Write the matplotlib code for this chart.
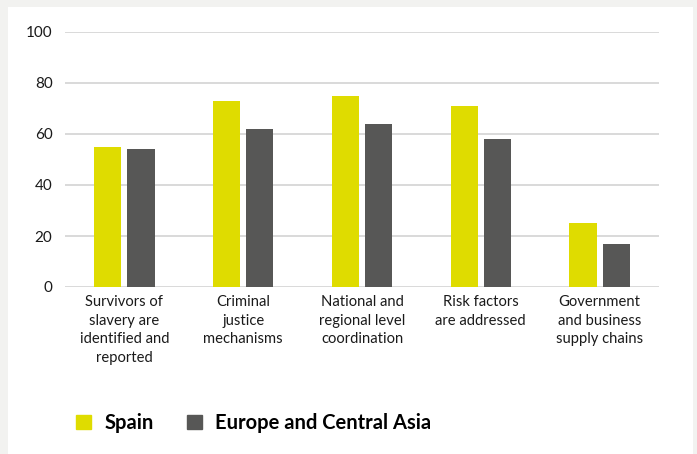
import matplotlib.pyplot as plt
import matplotlib.patches as mpatches
import numpy as np

plt.rcParams['font.family'] = ['Lato', 'DejaVu Sans']

# data
categories = ['Survivors of\nslavery are\nidentified and\nreported',
              'Criminal\njustice\nmechanisms',
              'National and\nregional level\ncoordination',
              'Risk factors\nare addressed',
              'Government\nand business\nsupply chains']
spain = [55, 73, 75, 71, 25]
europe_ca = [54, 62, 64, 58, 17]
series_names = ['Spain', 'Europe and Central Asia']
yticks = [0, 20, 40, 60, 80, 100]

col_spain = '#dfdc00'
col_eca = '#575756'

fig = plt.figure(figsize=(6.97, 4.54), dpi=100)
fig.patch.set_facecolor('#f2f2f0')

# white panel inside the light grey frame
fig.patches.append(mpatches.Rectangle((8 / 697, 0), (693 - 8) / 697, (454 - 7) / 454,
                                      transform=fig.transFigure, facecolor='white',
                                      edgecolor='none', zorder=-5))

ax = fig.add_axes([65 / 697, (454 - 287) / 454, (659 - 65) / 697, (287 - 32) / 454])
ax.set_facecolor('none')
ax.set_zorder(2)

x = np.arange(len(categories))
w = 0.23
off = 0.14
b1 = ax.bar(x - off, spain, w, color=col_spain, zorder=3, label=series_names[0])
b2 = ax.bar(x + off, europe_ca, w, color=col_eca, zorder=3, label=series_names[1])

ax.set_xlim(-0.5, len(categories) - 0.5)
ax.set_ylim(0, 100)
ax.set_yticks(yticks)
ax.yaxis.grid(True, color='#cfcfcf', linewidth=1.1, zorder=0)
ax.set_axisbelow(True)
for s in ax.spines.values():
    s.set_visible(False)

ax.tick_params(axis='y', length=0, pad=9, labelsize=11, labelcolor='#1a1a1a')
ax.set_xticks(x)
ax.set_xticklabels(categories, fontsize=10.6, color='#1a1a1a', linespacing=1.4)
ax.tick_params(axis='x', length=0, pad=6)

# legend with square markers
handles = [mpatches.Patch(color=col_spain), mpatches.Patch(color=col_eca)]
leg = fig.legend(handles, series_names, loc='center left', bbox_to_anchor=(58 / 697, 1 - 423 / 454),
                 ncol=2, frameon=False, prop={'weight': 'bold', 'size': 14.5},
                 handlelength=0.75, handleheight=0.75, handletextpad=0.65, columnspacing=1.65)
leg.set_zorder(3)

plt.savefig('out.png', dpi=100, facecolor=fig.get_facecolor())
